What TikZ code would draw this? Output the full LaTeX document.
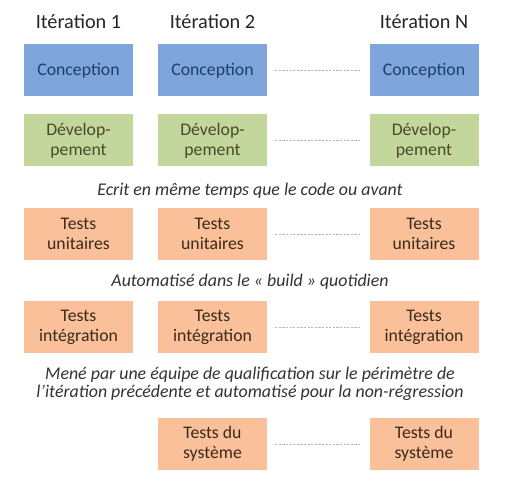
\documentclass[tikz,border=0pt]{standalone}
\usepackage{fontspec}
\setmainfont{Carlito}
\definecolor{cblue}{HTML}{7FA6DC}
\definecolor{cbluetxt}{HTML}{1F3D6B}
\definecolor{cgreen}{HTML}{C3D69B}
\definecolor{cgreentxt}{HTML}{4A4A2A}
\definecolor{corange}{HTML}{F9C09A}
\definecolor{corangetxt}{HTML}{3A2A1A}
\definecolor{cdot}{HTML}{B4B4BC}
\begin{document}
\begin{tikzpicture}[x=0.75pt,y=-0.75pt,
  box/.style={minimum width=81.75pt,minimum height=39pt,inner sep=0pt,align=center,
    font=\fontsize{13.3}{15.2}\selectfont},
  conc/.style={box,fill=cblue,text=cbluetxt},
  dev/.style={box,fill=cgreen,text=cgreentxt},
  tst/.style={box,fill=corange,text=corangetxt},
  head/.style={font=\fontsize{15.2}{17}\selectfont,text=black!85},
  captxt/.style={font=\fontsize{13.4}{13.8}\selectfont\itshape,text=black!80,align=center},
  dots/.style={cdot,dash pattern=on 1.6pt off 1.1pt,line width=0.6pt}]
\useasboundingbox (0,0) rectangle (519,502);
\fill[white] (0,0) rectangle (519,502);
% headers
\node[head] (h1) at (78.5,22) {Itération 1};
\node[head] (h2) at (212.5,22) {Itération 2};
\node[head] (h3) at (424,22) {Itération N};
% conception
\node[conc] (c1) at (78.5,70.5) {Conception};
\node[conc] (c2) at (212.5,70.5) {Conception};
\node[conc] (c3) at (424,70.5) {Conception};
% developpement
\node[dev] (d1) at (78.5,140.5) {Dévelop-\\pement};
\node[dev] (d2) at (212.5,140.5) {Dévelop-\\pement};
\node[dev] (d3) at (424,140.5) {Dévelop-\\pement};
% caption 1
\node[captxt] (k1) at (250,191) {Ecrit en même temps que le code ou avant};
% unit tests
\node[tst] (u1) at (78.5,234) {Tests\\unitaires};
\node[tst] (u2) at (212.5,234) {Tests\\unitaires};
\node[tst] (u3) at (424,234) {Tests\\unitaires};
% caption 2
\node[captxt] (k2) at (250,282) {Automatisé dans le « build » quotidien};
% integration
\node[tst] (i1) at (78.5,327.5) {Tests\\intégration};
\node[tst] (i2) at (212.5,327.5) {Tests\\intégration};
\node[tst] (i3) at (424,327.5) {Tests\\intégration};
% caption 3
\node[captxt] (k3) at (250,384) {Mené par une équipe de qualification sur le périmètre de\\l’itération précédente et automatisé pour la non-régression};
% system
\node[tst] (s2) at (212.5,444) {Tests du\\système};
\node[tst] (s3) at (424,444) {Tests du\\système};
% dotted connectors
\foreach \a/\b in {c2/c3,d2/d3,u2/u3,i2/i3,s2/s3}
  \draw[dots] ([xshift=6pt]\a.east) -- ([xshift=-6pt]\b.west);
\end{tikzpicture}
\end{document}
